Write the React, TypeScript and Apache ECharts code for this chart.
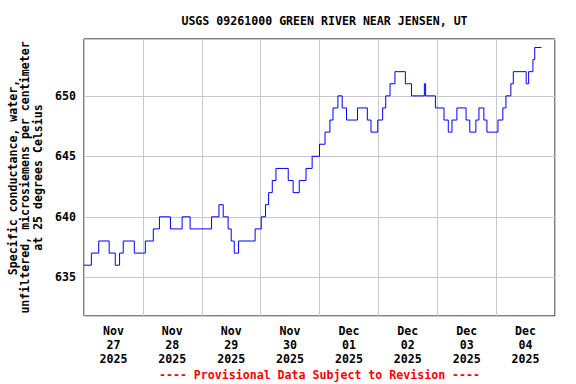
import React, { useEffect, useRef } from "react";
import * as echarts from "echarts";

const TITLE = "USGS 09261000 GREEN RIVER NEAR JENSEN, UT";
const FOOTER = "---- Provisional Data Subject to Revision ----";
const Y_NAME = "Specific conductance, water,\nunfiltered, microsiemens per centimeter\nat 25 degrees Celsius";
const START = "2025-11-27 00:00";
const END = "2025-12-05 00:00";
const DAY_LABELS = [
  "Nov\n27\n2025", "Nov\n28\n2025", "Nov\n29\n2025", "Nov\n30\n2025",
  "Dec\n01\n2025", "Dec\n02\n2025", "Dec\n03\n2025", "Dec\n04\n2025",
];
const Y_MIN = 631.8;
const Y_MAX = 654.7;

// times where the reading changes, and the value held from that time on
const TIMES = [
  "2025-11-27 00:00", "2025-11-27 03:00", "2025-11-27 06:00", "2025-11-27 10:15",
  "2025-11-27 12:45", "2025-11-27 14:30", "2025-11-27 16:00", "2025-11-27 20:30",
  "2025-11-28 01:00", "2025-11-28 04:15", "2025-11-28 06:45", "2025-11-28 11:15",
  "2025-11-28 16:00", "2025-11-28 19:15", "2025-11-29 04:00", "2025-11-29 07:00",
  "2025-11-29 08:45", "2025-11-29 10:45", "2025-11-29 12:00", "2025-11-29 13:15",
  "2025-11-29 15:00", "2025-11-29 21:45", "2025-11-30 00:15", "2025-11-30 02:00",
  "2025-11-30 03:15", "2025-11-30 04:45", "2025-11-30 06:15", "2025-11-30 11:15",
  "2025-11-30 13:15", "2025-11-30 15:45", "2025-11-30 18:30", "2025-11-30 21:00",
  "2025-12-01 00:00", "2025-12-01 02:15", "2025-12-01 04:15", "2025-12-01 05:30",
  "2025-12-01 07:30", "2025-12-01 09:15", "2025-12-01 11:00", "2025-12-01 15:30",
  "2025-12-01 19:30", "2025-12-01 21:00", "2025-12-01 23:45", "2025-12-02 01:45",
  "2025-12-02 03:00", "2025-12-02 04:45", "2025-12-02 06:45", "2025-12-02 11:00",
  "2025-12-02 13:30", "2025-12-02 18:45", "2025-12-02 19:15", "2025-12-02 23:15",
  "2025-12-03 02:45", "2025-12-03 04:30", "2025-12-03 06:00", "2025-12-03 08:00",
  "2025-12-03 11:45", "2025-12-03 13:15", "2025-12-03 15:45", "2025-12-03 17:00",
  "2025-12-03 19:00", "2025-12-03 20:15", "2025-12-04 00:45", "2025-12-04 02:45",
  "2025-12-04 04:00", "2025-12-04 06:00", "2025-12-04 07:00", "2025-12-04 12:15",
  "2025-12-04 13:15", "2025-12-04 15:00", "2025-12-04 15:45", "2025-12-04 18:30",
];
const VALUES = [
  636, 637, 638, 637,
  636, 637, 638, 637,
  638, 639, 640, 639,
  640, 639, 640, 641,
  640, 639, 638, 637,
  638, 639, 640, 641,
  642, 643, 644, 643,
  642, 643, 644, 645,
  646, 647, 648, 649,
  650, 649, 648, 649,
  648, 647, 648, 649,
  650, 651, 652, 651,
  650, 651, 650, 649,
  648, 647, 648, 649,
  648, 647, 648, 649,
  648, 647, 648, 649,
  650, 651, 652, 651,
  652, 653, 654, 654,
];

function toMs(s: string): number {
  const [d, t] = s.split(" ");
  const [y, m, dd] = d.split("-").map(Number);
  const [hh, mm] = t.split(":").map(Number);
  return Date.UTC(y, m - 1, dd, hh, mm);
}
function toHours(s: string): number {
  return (toMs(s) - toMs(START)) / 3600000;
}

const FONT = "'DejaVu Sans Mono', 'Liberation Mono', monospace";
const FS = 11.6;

export default function App() {
  const ref = useRef<HTMLDivElement>(null);
  useEffect(() => {
    if (!ref.current) return;
    const chart = echarts.init(ref.current, undefined, { renderer: "svg" });
    const data = TIMES.map((t, i) => [toHours(t), VALUES[i]]);
    const totalHours = toHours(END);
    chart.setOption({
      animation: false,
      backgroundColor: "#fff",
      title: {
        text: TITLE,
        left: 319.5,
        top: 10,
        textAlign: "center",
        textStyle: { fontFamily: FONT, fontWeight: "bold", fontSize: FS, color: "#000" },
      },
      graphic: [
        {
          type: "text",
          x: 319.5,
          y: 375,
          style: {
            text: FOOTER,
            fill: "#ff0000",
            font: `bold ${FS}px ${FONT}`,
            textAlign: "center",
            textVerticalAlign: "middle",
          },
        },
      ],
      grid: {
        left: 84,
        right: 21,
        top: 39,
        bottom: 68,
        show: true,
        borderColor: "#000",
        borderWidth: 1,
        backgroundColor: "transparent",
        containLabel: false,
        outerBoundsMode: "none",
      },
      xAxis: [
        {
          type: "value",
          position: "bottom",
          min: 0,
          max: totalHours,
          interval: 24,
          axisLine: { show: false },
          axisTick: { show: false },
          axisLabel: { show: false },
          splitLine: { show: true, lineStyle: { color: "#c8c8c8", width: 1 } },
        },
        {
          type: "category",
          position: "bottom",
          data: DAY_LABELS,
          boundaryGap: true,
          axisLine: { show: false },
          axisTick: { show: false },
          splitLine: { show: false },
          axisLabel: {
            interval: 0,
            margin: 8,
            fontFamily: FONT,
            fontWeight: "bold",
            fontSize: FS,
            color: "#000",
            lineHeight: 14,
          },
        },
      ],
      yAxis: {
        type: "value",
        min: Y_MIN,
        max: Y_MAX,
        splitNumber: 5,
        name: Y_NAME,
        nameLocation: "middle",
        nameGap: 37,
        nameTextStyle: {
          fontFamily: FONT,
          fontWeight: "bold",
          fontSize: FS,
          color: "#000",
          lineHeight: 12.5,
        },
        axisLine: { show: false },
        axisTick: { show: false },
        axisLabel: {
          margin: 8,
          fontFamily: FONT,
          fontWeight: "bold",
          fontSize: FS,
          color: "#000",
          showMinLabel: false,
          showMaxLabel: false,
          formatter: (v: number) => (Math.abs(v % 5) < 1e-6 ? String(v) : ""),
        },
        splitLine: { show: true, lineStyle: { color: "#c8c8c8", width: 1 } },
      },
      series: [
        {
          type: "line",
          xAxisIndex: 0,
          data,
          step: "end",
          showSymbol: false,
          lineStyle: { color: "#0000ff", width: 1 },
        },
      ],
    });
    return () => chart.dispose();
  }, []);
  return <div ref={ref} style={{ width: 576, height: 384, position: "absolute", left: 0, top: 0 }} />;
}
